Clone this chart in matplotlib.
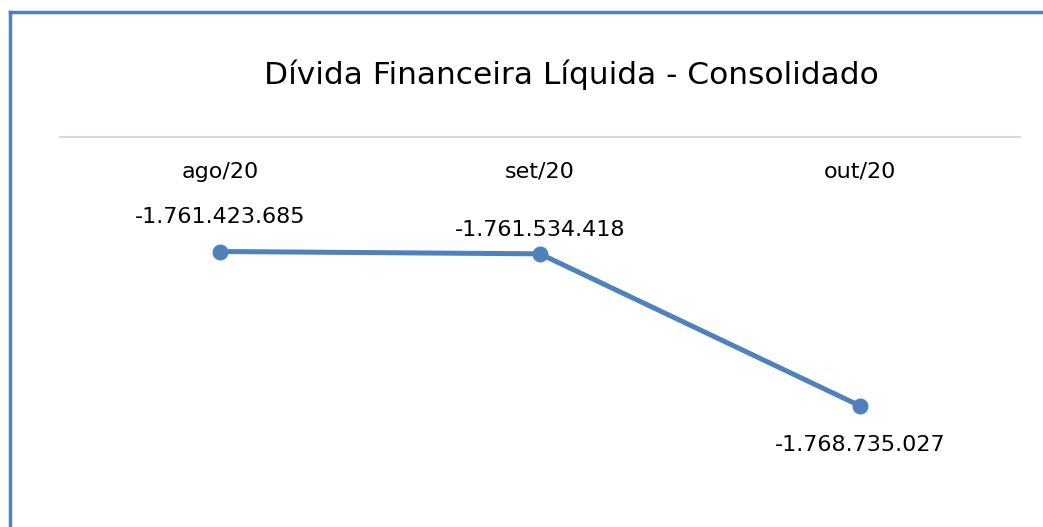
import matplotlib.pyplot as plt
from matplotlib.lines import Line2D
from matplotlib.ticker import NullLocator

# data
months = ['ago/20', 'set/20', 'out/20']
divida = [-1761423685, -1761534418, -1768735027]
rotulos = ['-1.761.423.685', '-1.761.534.418', '-1.768.735.027']

plt.rcParams['font.family'] = ['DejaVu Sans']
azul = '#4F81BD'

fig = plt.figure(figsize=(10.43, 5.27), dpi=100)
W, H = 1043, 527

# plot area: x 60..1020 px, top at y=137 px
ax = fig.add_axes([60 / W, (H - 517) / H, 960 / W, (517 - 137) / H])
x = list(range(len(months)))
ax.plot(x, divida, color=azul, lw=3.6, marker='o', ms=10.5, solid_capstyle='round')
ax.set_xlim(-0.5, len(months) - 0.5)
ax.set_ylim(-1774.0e6, -1756.0e6)

for s in ['left', 'right', 'bottom']:
    ax.spines[s].set_visible(False)
ax.spines['top'].set_color('#D9D9D9')
ax.spines['top'].set_linewidth(1.5)
ax.yaxis.set_major_locator(NullLocator())
ax.xaxis.set_major_locator(NullLocator())

# category labels sit just under the axis line at the top
for xi, m in zip(x, months):
    ax.annotate(m, (xi, 1), xycoords=('data', 'axes fraction'), xytext=(0, -25),
                textcoords='offset points', ha='center', va='center', fontsize=16)

offsets = [(0, 25), (0, 17.5), (0, -28)]
for xi, yi, lab, off in zip(x, divida, rotulos, offsets):
    ax.annotate(lab, (xi, yi), xytext=off, textcoords='offset points',
                ha='center', va='center', fontsize=16)

fig.text(571 / W, 1 - 75 / H, 'Dívida Financeira Líquida - Consolidado',
         ha='center', va='center', fontsize=22.5)

# chart border (left and top)
fig.add_artist(Line2D([9.5 / W, 9.5 / W], [0, 1 - 12 / H], transform=fig.transFigure,
                      color=azul, lw=2.5))
fig.add_artist(Line2D([9.5 / W, 1], [1 - 12 / H, 1 - 12 / H], transform=fig.transFigure,
                      color=azul, lw=2.5))

fig.savefig('out.png', dpi=100)
